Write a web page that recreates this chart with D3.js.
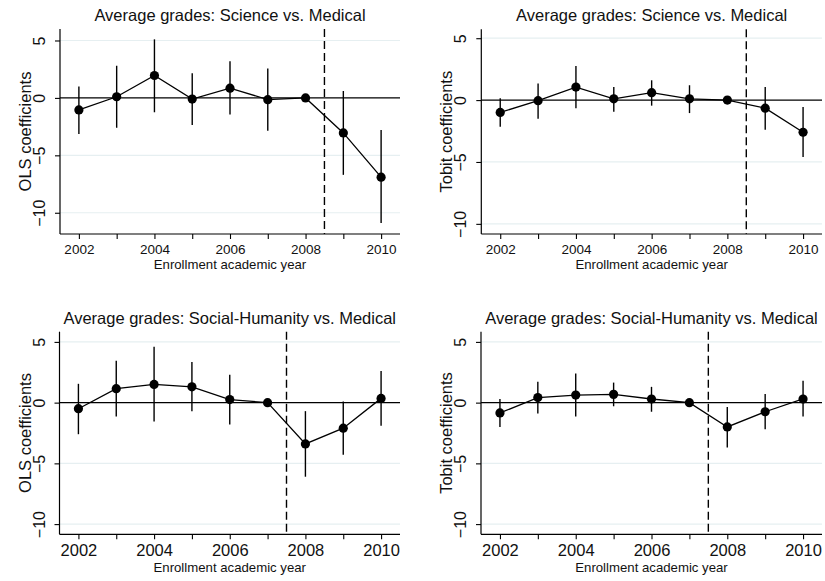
<!DOCTYPE html>
<html><head><meta charset="utf-8">
<script src="https://cdn.jsdelivr.net/npm/d3@7/dist/d3.min.js"></script>
<style>
body{margin:0;background:#fff}
svg{display:block;font-family:"Liberation Sans",Arial,Helvetica,sans-serif}
</style>
</head><body>
<svg id="chart" width="825" height="581"></svg>
<script>
// ---------- data ----------
const years = [2002, 2003, 2004, 2005, 2006, 2007, 2008, 2009, 2010];
const xTickLabels = [2002, 2004, 2006, 2008, 2010];
const yTickValues = [5, 0, -5, -10];
const panelTitles = [
  "Average grades: Science vs. Medical",
  "Average grades: Science vs. Medical",
  "Average grades: Social-Humanity vs. Medical",
  "Average grades: Social-Humanity vs. Medical"
];
const yAxisTitles = ["OLS coefficients", "Tobit coefficients", "OLS coefficients", "Tobit coefficients"];
const xAxisTitle = "Enrollment academic year";
const cutoffYears = [2008.5, 2008.5, 2007.5, 2007.5];

// OLS, Science vs Medical
const olsSciCoef = [-1.05, 0.1, 1.95, -0.1, 0.85, -0.15, 0, -3.05, -6.9];
const olsSciLo   = [-3.15, -2.6, -1.25, -2.35, -1.45, -2.85, 0, -6.7, -10.9];
const olsSciHi   = [1.0, 2.8, 5.1, 2.15, 3.2, 2.55, 0, 0.6, -2.8];
// Tobit, Science vs Medical
const tobSciCoef = [-1.0, -0.05, 1.05, 0.1, 0.6, 0.1, 0, -0.65, -2.6];
const tobSciLo   = [-2.15, -1.5, -0.65, -0.95, -0.45, -1.05, 0, -2.4, -4.6];
const tobSciHi   = [0.15, 1.35, 2.75, 1.05, 1.6, 1.2, 0, 1.05, -0.55];
// OLS, Social-Humanity vs Medical
const olsSocCoef = [-0.5, 1.15, 1.5, 1.3, 0.25, 0, -3.4, -2.1, 0.35];
const olsSocLo   = [-2.6, -1.15, -1.55, -0.7, -1.8, 0, -6.1, -4.3, -1.9];
const olsSocHi   = [1.55, 3.45, 4.6, 3.35, 2.3, 0, -0.7, 0.1, 2.6];
// Tobit, Social-Humanity vs Medical
const tobSocCoef = [-0.85, 0.42, 0.62, 0.68, 0.3, 0, -2.0, -0.75, 0.3];
const tobSocLo   = [-2.0, -0.9, -1.15, -0.3, -0.75, 0, -3.7, -2.2, -1.15];
const tobSocHi   = [0.3, 1.72, 2.4, 1.65, 1.3, 0, -0.35, 0.72, 1.8];

const yDomains = [[-11.85, 6.0], [-10.82, 5.72], [-10.84, 5.84], [-10.84, 5.84]];

// ---------- layout ----------
const panels = [
  {coef: olsSciCoef, lo: olsSciLo, hi: olsSciHi, x0: 60,  x1: 400, y0: 29,    y1: 234,   tickFont: 13.5, titleBase: 20.7,  xtBase: 254.3, xTitleBase: 269.3},
  {coef: tobSciCoef, lo: tobSciLo, hi: tobSciHi, x0: 481.3, x1: 822, y0: 29.3, y1: 234,  tickFont: 13.5, titleBase: 20.7,  xtBase: 254.3, xTitleBase: 269.3},
  {coef: olsSocCoef, lo: olsSocLo, hi: olsSocHi, x0: 59.5, x1: 400, y0: 331.7, y1: 534.3, tickFont: 16.5, titleBase: 324.3, xtBase: 556.5, xTitleBase: 571.7},
  {coef: tobSocCoef, lo: tobSocLo, hi: tobSocHi, x0: 481, x1: 822, y0: 331.7, y1: 534.3, tickFont: 16.5, titleBase: 324.3, xtBase: 556.5, xTitleBase: 571.7}
];

const svg = d3.select("#chart");
svg.append("rect").attr("width", 825).attr("height", 581).attr("fill", "#fff");

panels.forEach((p, i) => {
  const g = svg.append("g");
  const x = d3.scaleLinear().domain([2001.5, 2010.5]).range([p.x0, p.x1]);
  const y = d3.scaleLinear().domain(yDomains[i]).range([p.y1, p.y0]);

  // gridlines
  g.selectAll("line.grid").data(yTickValues.filter(v => v !== 0)).enter().append("line")
    .attr("x1", p.x0).attr("x2", p.x1)
    .attr("y1", d => y(d)).attr("y2", d => y(d))
    .attr("stroke", "#e6eff1").attr("stroke-width", 1.2);

  // zero line
  g.append("line").attr("x1", p.x0).attr("x2", p.x1)
    .attr("y1", y(0)).attr("y2", y(0))
    .attr("stroke", "#000").attr("stroke-width", 1.3);

  // cutoff dashed line
  g.append("line").attr("x1", x(cutoffYears[i])).attr("x2", x(cutoffYears[i]))
    .attr("y1", p.y0).attr("y2", p.y1)
    .attr("stroke", "#000").attr("stroke-width", 1.4)
    .attr("stroke-dasharray", "8,4");

  // y axis
  const yAxis = d3.axisLeft(y).tickValues(yTickValues).tickSize(5).tickFormat(d3.format("d"));
  const ya = g.append("g").attr("transform", `translate(${p.x0},0)`).call(yAxis);
  ya.select(".domain").attr("d", `M0,${p.y0}V${p.y1}`).attr("stroke", "#000").attr("stroke-width", 1.2);
  ya.selectAll(".tick line").attr("stroke", "#000").attr("stroke-width", 1.1);
  ya.selectAll(".tick text")
    .attr("x", null).attr("dy", null)
    .attr("transform", "translate(-15,0) rotate(-90)")
    .attr("text-anchor", "middle").attr("fill", "#111")
    .style("font-size", "16px");

  // x axis
  const xAxis = d3.axisBottom(x).tickValues(years).tickSize(5)
    .tickFormat(d => xTickLabels.includes(d) ? String(d) : "");
  const xa = g.append("g").attr("transform", `translate(0,${p.y1})`).call(xAxis);
  xa.select(".domain").attr("d", `M${p.x0},0H${p.x1}`).attr("stroke", "#000").attr("stroke-width", 1.2);
  xa.selectAll(".tick line").attr("stroke", "#000").attr("stroke-width", 1.1);
  xa.selectAll(".tick text").attr("y", p.xtBase - p.y1).attr("dy", null)
    .attr("fill", "#111").style("font-size", p.tickFont + "px");

  // CI bars
  g.selectAll("line.ci").data(years.map((yr, k) => ({yr, lo: p.lo[k], hi: p.hi[k]})))
    .enter().append("line")
    .attr("x1", d => x(d.yr)).attr("x2", d => x(d.yr))
    .attr("y1", d => y(d.lo)).attr("y2", d => y(d.hi))
    .attr("stroke", "#000").attr("stroke-width", 1.4);

  // connecting line
  const pts = years.map((yr, k) => ({yr, v: p.coef[k]}));
  g.append("path").datum(pts)
    .attr("d", d3.line().x(d => x(d.yr)).y(d => y(d.v)))
    .attr("fill", "none").attr("stroke", "#000").attr("stroke-width", 1.3);

  // markers
  g.selectAll("circle").data(pts).enter().append("circle")
    .attr("cx", d => x(d.yr)).attr("cy", d => y(d.v)).attr("r", 4.6)
    .attr("fill", "#000");

  // titles
  g.append("text").attr("x", (p.x0 + p.x1) / 2).attr("y", p.titleBase)
    .attr("text-anchor", "middle").attr("fill", "#111").style("font-size", "16.5px")
    .text(panelTitles[i]);
  g.append("text").attr("x", (p.x0 + p.x1) / 2).attr("y", p.xTitleBase)
    .attr("text-anchor", "middle").attr("fill", "#111").style("font-size", "13.2px")
    .text(xAxisTitle);
  g.append("text")
    .attr("transform", `translate(${p.x0 - 29},${(p.y0 + p.y1) / 2}) rotate(-90)`)
    .attr("text-anchor", "middle").attr("fill", "#111").style("font-size", "16.5px")
    .text(yAxisTitles[i]);
});
</script>
</body></html>
